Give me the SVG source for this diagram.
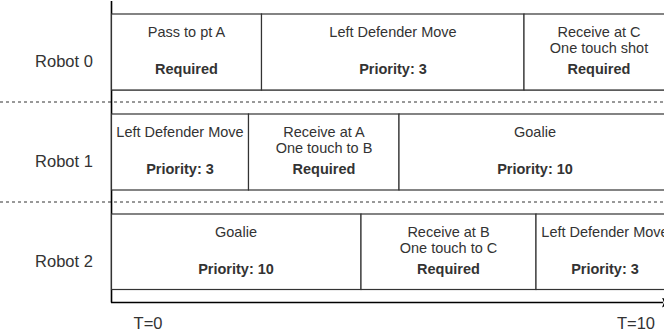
<svg xmlns="http://www.w3.org/2000/svg" width="664" height="332" viewBox="0 0 664 332">
<style>
.box{fill:#fff;stroke:#333;stroke-width:1.2}
.t{font-family:"Liberation Sans",Arial,sans-serif;font-size:14.5px;fill:#333;text-anchor:middle}
.b{font-weight:bold}
.lbl{font-family:"Liberation Sans",Arial,sans-serif;font-size:16.5px;fill:#333;text-anchor:middle}
.dash{stroke:#333;stroke-width:1;stroke-dasharray:3 3;fill:none}
.axis{stroke:#000;stroke-width:1.6;fill:none}
</style>
<defs>
<marker id="arr" markerWidth="10" markerHeight="10" refX="1" refY="5" orient="auto" markerUnits="userSpaceOnUse">
<path d="M0,0 L9,5 L0,10 L2,5 Z" fill="#000"/>
</marker>
</defs>
<g id="connectors">
<line class="dash" x1="0" y1="102" x2="664" y2="102"/>
<line class="dash" x1="0" y1="202" x2="664" y2="202"/>
<line class="axis" x1="111.5" y1="1" x2="111.5" y2="302.5"/>
<line class="axis" x1="111" y1="302.5" x2="663" y2="302.5" marker-end="url(#arr)"/>
</g>
<g id="lane0">
<line class="box" x1="111.5" y1="90" x2="671" y2="90"/>
<text class="lbl" x="64" y="67">Robot 0</text>
</g>
<g id="r0a"><rect class="box" x="111.5" y="14" width="150" height="76"/>
<text class="t" x="186.5" y="37">Pass to pt A</text><text class="t b" x="186.5" y="74">Required</text></g>
<g id="r0b"><rect class="box" x="261.5" y="14" width="262.5" height="76"/>
<text class="t" x="393" y="37">Left Defender Move</text><text class="t b" x="393" y="74">Priority: 3</text></g>
<g id="r0c"><rect class="box" x="524" y="14" width="150" height="76"/>
<text class="t" x="599" y="37">Receive at C</text><text class="t" x="599" y="52.5">One touch shot</text><text class="t b" x="599" y="74">Required</text></g>
<g id="lane1"><text class="lbl" x="64" y="167">Robot 1</text></g>
<g id="r1a"><rect class="box" x="111.5" y="114" width="137" height="76"/>
<text class="t" x="180" y="137">Left Defender Move</text><text class="t b" x="180" y="174">Priority: 3</text></g>
<g id="r1b"><rect class="box" x="248.5" y="114" width="150.5" height="76"/>
<text class="t" x="324" y="137">Receive at A</text><text class="t" x="324" y="152.5">One touch to B</text><text class="t b" x="324" y="174">Required</text></g>
<g id="r1c"><rect class="box" x="399" y="114" width="272" height="76"/>
<text class="t" x="535" y="137">Goalie</text><text class="t b" x="535" y="174">Priority: 10</text></g>
<g id="lane2"><text class="lbl" x="64" y="267">Robot 2</text></g>
<g id="r2a"><rect class="box" x="111.5" y="214" width="249.5" height="75.5"/>
<text class="t" x="236" y="237">Goalie</text><text class="t b" x="236" y="274">Priority: 10</text></g>
<g id="r2b"><rect class="box" x="361" y="214" width="175" height="75.5"/>
<text class="t" x="448.5" y="237">Receive at B</text><text class="t" x="448.5" y="252.5">One touch to C</text><text class="t b" x="448.5" y="274">Required</text></g>
<g id="r2c"><rect class="box" x="536" y="214" width="138" height="75.5"/>
<text class="t" x="605" y="237">Left Defender Move</text><text class="t b" x="605" y="274">Priority: 3</text></g>
<g id="labels">
<text class="lbl" x="148" y="329">T=0</text>
<text class="lbl" x="636" y="329">T=10</text>
</g>
</svg>
